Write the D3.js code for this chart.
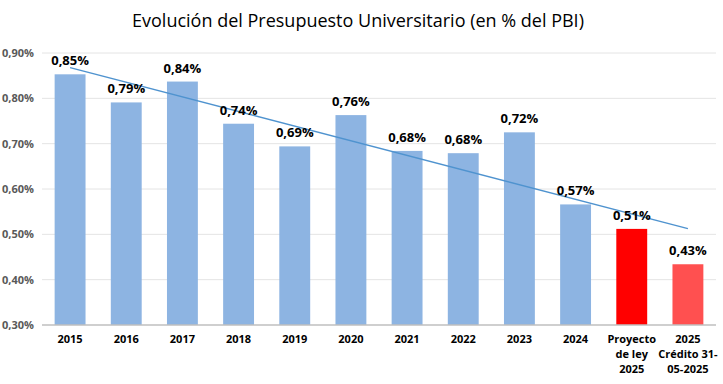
<!DOCTYPE html>
<html>
<head>
<meta charset="utf-8">
<script src="https://cdn.jsdelivr.net/npm/d3@7"></script>
<style>
  body { margin: 0; background: #fff; }
  text { font-family: "Open Sans", "DejaVu Sans", sans-serif; }
</style>
</head>
<body>
<script>
const width = 723;
const height = 384;

// Chart data
const categories = ["2015", "2016", "2017", "2018", "2019", "2020", "2021", "2022", "2023", "2024", "Proyecto de ley 2025", "2025 Crédito 31-05-2025"];
const categoryLines = [["2015"], ["2016"], ["2017"], ["2018"], ["2019"], ["2020"], ["2021"], ["2022"], ["2023"], ["2024"], ["Proyecto", "de ley", "2025"], ["2025", "Crédito 31-", "05-2025"]];
const values = [0.853, 0.791, 0.837, 0.744, 0.694, 0.763, 0.684, 0.679, 0.725, 0.566, 0.512, 0.434];
const barColors = ["#8db4e2", "#8db4e2", "#8db4e2", "#8db4e2", "#8db4e2", "#8db4e2", "#8db4e2", "#8db4e2", "#8db4e2", "#8db4e2", "#ff0000", "#ff5050"];
const yTicks = [0.30, 0.40, 0.50, 0.60, 0.70, 0.80, 0.90];

const margin = { top: 53, right: 7, bottom: 59, left: 42 };

const svg = d3.select("body").append("svg")
  .attr("width", width)
  .attr("height", height);

// Title
svg.append("text")
  .attr("x", 358)
  .attr("y", 27)
  .attr("text-anchor", "middle")
  .style("font-size", "18px")
  .attr("fill", "#000")
  .text("Evolución del Presupuesto Universitario (en % del PBI)");

const x = d3.scaleBand()
  .domain(categories)
  .range([margin.left, width - margin.right])
  .paddingInner(0.45)
  .paddingOuter(0.225);

const y = d3.scaleLinear()
  .domain([0.30, 0.90])
  .range([height - margin.bottom, margin.top]);

const fmt = v => v.toFixed(2).replace(".", ",") + "%";

// Gridlines
svg.append("g")
  .selectAll("line")
  .data(yTicks.slice(1))
  .enter()
  .append("line")
  .attr("x1", margin.left)
  .attr("x2", width - margin.right)
  .attr("y1", d => y(d))
  .attr("y2", d => y(d))
  .attr("stroke", "#e4e4e4")
  .attr("stroke-width", 1);

// Y tick labels
svg.append("g")
  .selectAll("text")
  .data(yTicks)
  .enter()
  .append("text")
  .attr("x", 2)
  .attr("y", d => y(d) + 4)
  .style("font-size", "11px")
  .style("font-weight", "bold")
  .attr("fill", "#595959")
  .text(fmt);

// Bars
svg.append("g")
  .selectAll("rect")
  .data(values)
  .enter()
  .append("rect")
  .attr("x", (d, i) => x(categories[i]))
  .attr("y", d => y(d))
  .attr("width", x.bandwidth())
  .attr("height", d => y(0.30) - y(d))
  .attr("fill", (d, i) => barColors[i]);

// Bottom axis line
svg.append("line")
  .attr("x1", margin.left)
  .attr("x2", width - margin.right)
  .attr("y1", y(0.30))
  .attr("y2", y(0.30))
  .attr("stroke", "#bfbfbf")
  .attr("stroke-width", 1.5);

// Linear trend line (least squares over all bars)
const n = values.length;
const meanX = (n - 1) / 2;
const meanY = d3.mean(values);
const slope = d3.sum(values, (v, i) => (i - meanX) * (v - meanY)) / d3.sum(values, (v, i) => (i - meanX) * (i - meanX));
const trendAt = i => meanY + slope * (i - meanX);

svg.append("line")
  .attr("x1", x(categories[0]) + x.bandwidth() / 2)
  .attr("y1", y(trendAt(0)))
  .attr("x2", x(categories[n - 1]) + x.bandwidth() / 2)
  .attr("y2", y(trendAt(n - 1)))
  .attr("stroke", "#4f93cf")
  .attr("stroke-width", 1.5);

// Value labels
svg.append("g")
  .selectAll("text")
  .data(values)
  .enter()
  .append("text")
  .attr("x", (d, i) => x(categories[i]) + x.bandwidth() / 2)
  .attr("y", d => y(d) - 9)
  .attr("text-anchor", "middle")
  .style("font-size", "13px")
  .style("font-weight", "bold")
  .attr("fill", "#000")
  .text(fmt);

// X labels
const xl = svg.append("g")
  .selectAll("text")
  .data(categoryLines)
  .enter()
  .append("text")
  .attr("x", (d, i) => x(categories[i]) + x.bandwidth() / 2)
  .attr("y", 343)
  .attr("text-anchor", "middle")
  .style("font-size", "11px")
  .style("font-weight", "bold")
  .attr("fill", "#000");

xl.selectAll("tspan")
  .data(d => d)
  .enter()
  .append("tspan")
  .attr("x", function () { return this.parentNode.getAttribute("x"); })
  .attr("dy", (d, i) => i === 0 ? 0 : 15)
  .text(d => d);
</script>
</body>
</html>
